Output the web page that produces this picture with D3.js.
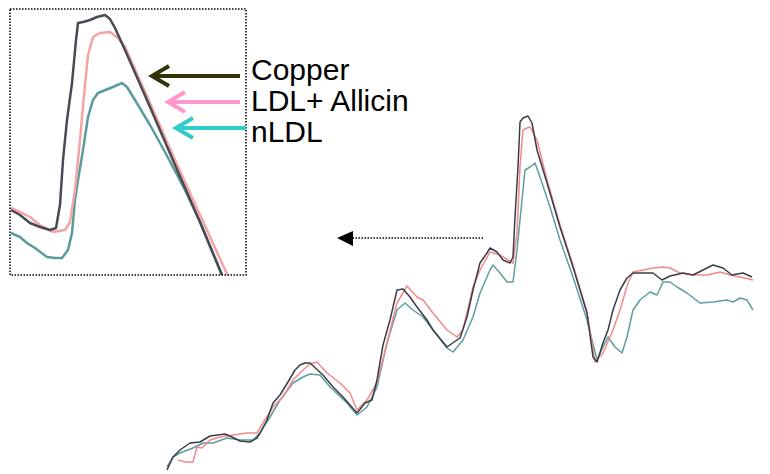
<!DOCTYPE html>
<html>
<head>
<meta charset="utf-8">
<script src="https://cdn.jsdelivr.net/npm/d3@7"></script>
<style>
  body { margin: 0; background: #fff; }
  svg { display: block; }
</style>
</head>
<body>
<svg id="chart"></svg>
<script>
const width = 770;
const height = 474;

// Main spectrum traces, [x, absorbance] in arbitrary units
const copperMain = [[0,0],[6,13],[13,20],[23,27],[33,28],[43,34],[58,36],[65,33],[73,29],[83,28],[90,32],[93,37],[100,50],[106,67],[113,75],[121,88],[128,100],[133,105],[138,107],[143,107],[156,95],[166,83],[176,73],[183,65],[190,57],[198,67],[205,70],[210,90],[216,125],[223,150],[230,180],[236,181],[243,173],[250,163],[260,150],[266,140],[280,123],[290,130],[293,132],[300,153],[306,180],[313,207],[320,217],[323,222],[330,218],[336,210],[343,207],[346,213],[348,253],[351,303],[353,348],[356,352],[361,354],[365,347],[370,320],[380,287],[393,243],[406,203],[420,157],[426,113],[430,108],[436,127],[441,140],[446,160],[453,180],[460,192],[466,197],[476,197],[486,197],[495,190],[503,194],[516,197],[526,195],[536,200],[546,205],[556,202],[565,195],[576,197],[585,193]];
const allicinMain = [[11,10],[18,8],[26,8],[30,23],[35,22],[43,30],[53,33],[66,35],[80,37],[90,37],[96,47],[106,63],[116,73],[126,90],[136,100],[143,106],[150,108],[160,97],[173,87],[183,77],[190,60],[200,70],[210,87],[220,127],[230,167],[240,184],[250,173],[256,170],[266,157],[280,140],[290,133],[296,140],[306,183],[313,200],[323,218],[333,215],[346,207],[350,237],[353,303],[356,340],[360,342],[363,343],[370,330],[380,290],[393,245],[406,205],[420,158],[428,108],[436,117],[446,140],[453,160],[461,187],[466,198],[476,200],[486,202],[496,203],[503,202],[513,197],[526,195],[540,195],[553,198],[563,195],[573,193],[586,190]];
const nldlMain = [[0,3],[6,13],[13,17],[26,22],[36,27],[46,27],[60,32],[73,30],[86,30],[93,37],[103,53],[113,70],[126,87],[136,93],[143,96],[153,95],[163,83],[180,67],[190,55],[200,63],[210,83],[220,127],[230,160],[238,167],[246,160],[256,153],[266,140],[280,122],[286,118],[296,130],[306,153],[313,177],[323,200],[326,205],[333,197],[340,188],[346,188],[350,220],[355,270],[358,300],[363,303],[368,307],[373,293],[383,263],[393,230],[406,193],[420,150],[430,110],[436,123],[441,133],[448,123],[455,117],[460,133],[466,160],[473,170],[483,178],[490,175],[496,188],[503,188],[510,183],[520,177],[533,167],[546,168],[560,170],[566,168],[573,172],[580,170],[586,160]];

// Inset: magnified main peak
const copperInset = [[1,65],[10,60],[20,52],[30,48],[40,45],[46,47],[50,70],[53,115],[57,155],[62,192],[66,235],[68,252],[73,253],[80,255],[87,258],[95,260],[100,256],[105,247],[115,225],[140,168],[165,110],[190,53],[212,0],[216,-8]];
const allicinInset = [[1,67],[10,63],[20,58],[30,50],[43,43],[55,45],[60,53],[65,85],[70,135],[74,180],[78,220],[83,238],[90,242],[100,243],[108,237],[115,228],[140,172],[165,115],[190,60],[222,-10]];
const nldlInset = [[1,42],[10,38],[17,32],[25,27],[37,18],[45,17],[52,17],[58,25],[62,42],[65,75],[68,95],[73,125],[78,158],[83,175],[88,182],[103,188],[112,192],[117,188],[125,175],[140,150],[155,123],[175,85],[190,53],[212,0],[216,-8]];

const labels = ["Copper", "LDL+ Allicin", "nLDL"];
const lineColors = ["#3c3c48", "#f08a8a", "#5e9ea0"];
const insetColors = ["#4a4a55", "#f5a3a3", "#5a9c9c"];
const arrowColors = ["#333308", "#ff99cc", "#33cccc"];

const svg = d3.select("#chart")
    .attr("width", width)
    .attr("height", height);

// Main chart scales
const x = d3.scaleLinear().domain([0, 590]).range([167, 757]);
const y = d3.scaleLinear().domain([0, 360]).range([470, 110]);

const line = d3.line().x(d => x(d[0])).y(d => y(d[1]));

const mainSeries = [nldlMain, allicinMain, copperMain];
const mainColors = [lineColors[2], lineColors[1], lineColors[0]];

svg.append("g")
    .selectAll("path")
    .data(mainSeries)
    .join("path")
    .attr("d", line)
    .attr("fill", "none")
    .attr("stroke", (d, i) => mainColors[i])
    .attr("stroke-width", 1.5)
    .attr("stroke-linejoin", "round");

// Inset box
const box = { x0: 10, y0: 9, x1: 246, y1: 275 };
const ix = d3.scaleLinear().domain([0, 236]).range([box.x0, box.x1]);
const iy = d3.scaleLinear().domain([0, 266]).range([box.y1, box.y0]);
const insetLine = d3.line().x(d => ix(d[0])).y(d => iy(d[1]));

svg.append("clipPath")
    .attr("id", "inset-clip")
    .append("rect")
    .attr("x", box.x0)
    .attr("y", box.y0)
    .attr("width", box.x1 - box.x0)
    .attr("height", box.y1 - box.y0);

const insetSeries = [nldlInset, allicinInset, copperInset];
const insetCol = [insetColors[2], insetColors[1], insetColors[0]];

svg.append("g")
    .attr("clip-path", "url(#inset-clip)")
    .selectAll("path")
    .data(insetSeries)
    .join("path")
    .attr("d", insetLine)
    .attr("fill", "none")
    .attr("stroke", (d, i) => insetCol[i])
    .attr("stroke-width", 2.5)
    .attr("stroke-linejoin", "round");

svg.append("rect")
    .attr("x", box.x0)
    .attr("y", box.y0)
    .attr("width", box.x1 - box.x0)
    .attr("height", box.y1 - box.y0)
    .attr("fill", "none")
    .attr("stroke", "#000")
    .attr("stroke-width", 1.5)
    .attr("stroke-dasharray", "1.5,1.5");

// Legend arrows + labels
const arrowY = [76, 102, 128];
const arrowTip = [152, 168, 176];
const arrowEnd = [240, 240, 246];

const legend = svg.append("g");
labels.forEach((lab, i) => {
    const g = legend.append("g")
        .attr("stroke", arrowColors[i])
        .attr("stroke-width", 4)
        .attr("fill", "none");
    g.append("line")
        .attr("x1", arrowEnd[i]).attr("x2", arrowTip[i] + 2)
        .attr("y1", arrowY[i]).attr("y2", arrowY[i]);
    g.append("path")
        .attr("d", `M${arrowTip[i] + 17},${arrowY[i] - 10}L${arrowTip[i]},${arrowY[i]}L${arrowTip[i] + 17},${arrowY[i] + 10}`)
        .attr("stroke-linejoin", "miter");

    legend.append("text")
        .attr("x", 251)
        .attr("y", [80, 111, 142][i])
        .attr("font-family", "Liberation Sans, Arial, sans-serif")
        .attr("font-size", 30)
        .attr("fill", "#000")
        .text(lab);
});

// Dotted pointer from main peak to inset
svg.append("line")
    .attr("x1", 483).attr("x2", 352)
    .attr("y1", 238).attr("y2", 238)
    .attr("stroke", "#000")
    .attr("stroke-width", 1.5)
    .attr("stroke-dasharray", "1.5,1.5");
svg.append("path")
    .attr("d", "M337,238L353,231L353,246Z")
    .attr("fill", "#000");
</script>
</body>
</html>
